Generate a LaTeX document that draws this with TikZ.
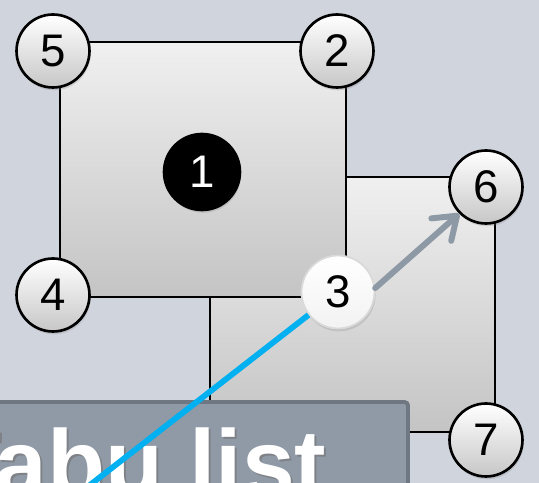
\documentclass[tikz,border=0pt]{standalone}
\usepackage{fontspec}
\setmainfont{Liberation Sans}
\usetikzlibrary{arrows.meta,shadows}
\definecolor{bgcol}{HTML}{D0D4DD}
\definecolor{sqtop}{HTML}{F0F0F0}
\definecolor{sqbot}{HTML}{C4C4C4}
\definecolor{boxfill}{HTML}{8F9AA6}
\definecolor{boxline}{HTML}{6E7782}
\definecolor{arrowgray}{HTML}{8E99A6}
\definecolor{tabublue}{HTML}{00B0F0}
\tikzset{
  num/.style={circle, draw, line width=1.5pt, minimum size=1.46cm, inner sep=0pt,
    top color=white, bottom color=black!22, font=\fontsize{26}{26}\selectfont,
    drop shadow={opacity=0.25, shadow xshift=0.6pt, shadow yshift=-1.6pt}},
  tabutext/.style={anchor=base west, inner sep=0pt, font=\fontsize{54}{54}\selectfont\bfseries}
}
\begin{document}
\begin{tikzpicture}[x=0.02cm, y=-0.02cm]
\useasboundingbox (0,0) rectangle (539,483);
\fill[bgcol] (0,0) rectangle (539,483);
\clip (0,0) rectangle (539,483);

\begin{scope}[every node/.style={rectangle, draw, line width=1.5pt, inner sep=0pt,
    top color=sqtop, bottom color=sqbot, minimum height=5.1cm}]
 \node[minimum width=5.7cm] (sqB) at (352.5,304.5) {};
 \node[minimum width=5.72cm] (sqA) at (203,169.5) {};
\end{scope}

\node[num] (c5) at (53,51) {5};
\node[num] (c2) at (337,51) {2};
\node[num] (c4) at (53,295) {4};
\node[num] (c6) at (486,187) {6};
\node[num] (c7) at (486,440) {7};
\node[num, fill=black, top color=black, bottom color=black, text=white, minimum size=1.52cm] (c1) at (202,172) {1};
\node[num, draw=black!15, line width=1pt, top color=white, bottom color=blue!5!black!5] (c3) at (338,292) {3};

\draw[boxline, fill=boxfill, line width=2.2pt, rounded corners=2pt] (-5,402) rectangle (408,505);
\node[tabutext, text=black!55, opacity=0.6] (tabushadow) at (-55,499) {Tabu list};
\node[tabutext, text=white] (tabu) at (-57,497) {Tabu list};

\coordinate (blueend) at (45,520);
\draw[tabublue, line width=3.3pt] (c3) -- (blueend);
\draw[arrowgray, line width=3.4pt, line cap=round, -{Straight Barb[length=0.42cm, width=0.6cm, round]}] (c3.6) -- (c6.225);
\end{tikzpicture}
\end{document}
